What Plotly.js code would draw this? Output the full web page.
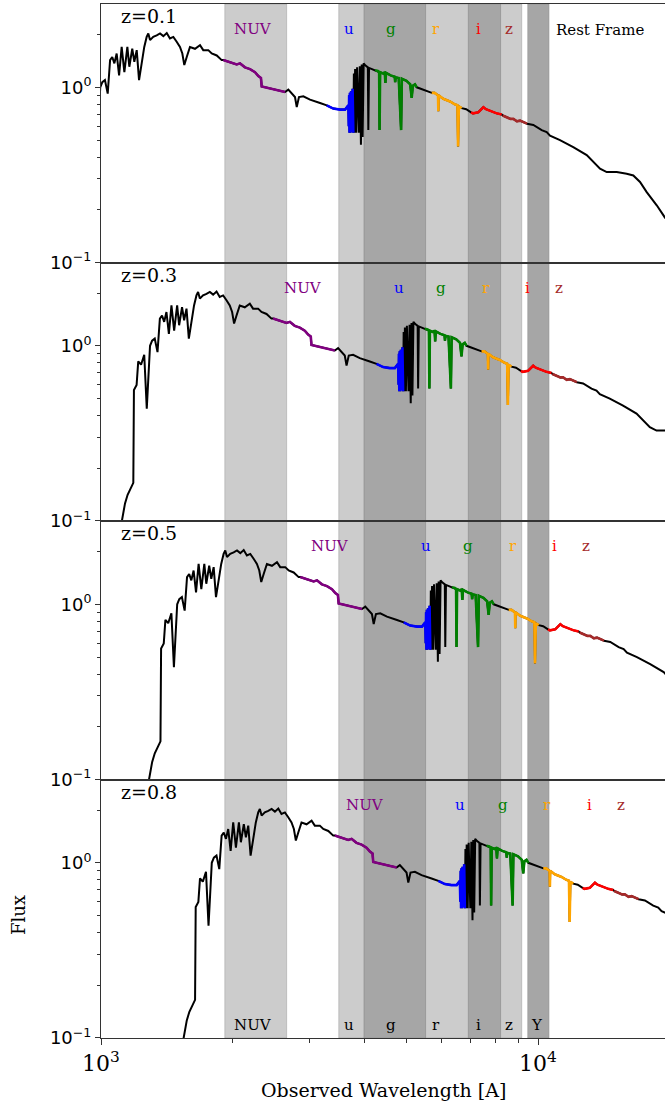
<!DOCTYPE html>
<html><head><meta charset="utf-8">
<script src="https://cdn.plot.ly/plotly-3.0.1.min.js"></script>
<style>html,body{margin:0;padding:0;background:#fff}#chart{width:665px;height:1102px}</style>
</head><body><div id="chart"></div>
<script>
// ---------- DATA ----------
// Rest-frame template spectrum (wavelength in Angstrom, relative flux)
const restWave = [845, 858, 873, 885, 904, 912, 915, 928, 936, 950, 966, 979, 996,
  1007, 1021, 1036, 1049, 1061, 1073, 1086, 1100, 1115, 1131, 1149, 1161, 1179, 1192, 1207, 1222, 1239, 1256,
  1272, 1283, 1295, 1317, 1341, 1365, 1389, 1414, 1438, 1464, 1490, 1516, 1535, 1551, 1571, 1598, 1641, 1685,
  1714, 1760, 1792, 1840, 1889,
  1905, 1973, 2044, 2081, 2135, 2193, 2251, 2291, 2323, 2332, 2373, 2436, 2502, 2568, 2637,
  2683, 2736, 2779, 2805, 2838, 2904, 3008, 3171, 3285, 3401, 3523, 3618, 3681,
  3690, 3697, 3704, 3712, 3722, 3734, 3750, 3765, 3779,
  3790, 3798, 3815, 3835, 3855, 3889, 3910, 3934, 3950, 3969, 3990, 4030, 4080, 4090, 4105, 4170, 4236,
  4300, 4330, 4340, 4352, 4420, 4460, 4475, 4490, 4600, 4700, 4712, 4725, 4800, 4861, 4880, 5000, 5100,
  5140, 5170, 5230, 5280, 5400, 5550, 5713,
  5800, 5905, 5915, 5925, 6070, 6290, 6450, 6540, 6563, 6590, 6691,
  6850, 7027, 7100, 7300, 7450, 7500, 7600, 7800, 8044, 8259,
  8300, 8481, 8650, 8781, 8950, 9096, 9300, 9441,
  9757, 10197, 10469, 10654, 11228, 12041, 12927, 13866, 14363, 15141, 15959, 16524, 17117, 17731, 18694, 19531, 20500];
const restFlux = [0.08, 0.10, 0.126, 0.141, 0.158, 0.165, 0.56, 0.598, 0.815, 0.78, 0.89, 0.438, 1.0,
  1.07, 1.10, 0.92, 1.43, 1.49, 1.37, 1.56, 1.17, 1.70, 1.22, 1.70, 1.31, 1.66, 1.40, 1.63, 1.10, 1.40, 1.70,
  1.94, 2.03, 1.86, 1.94, 1.98, 2.03, 1.96, 2.04, 1.90, 1.94, 1.82, 1.70, 1.56, 1.34, 1.49, 1.70, 1.66, 1.74,
  1.63, 1.63, 1.56, 1.52, 1.43,
  1.43, 1.39, 1.35, 1.37, 1.30, 1.27, 1.22, 1.16, 1.13, 1.01, 1.00, 0.987, 0.965, 0.955, 0.94,
  0.97, 0.912, 0.88, 0.772, 0.88, 0.888, 0.85, 0.813, 0.789, 0.756, 0.746, 0.746, 0.789,
  0.60, 0.90, 0.55, 0.93, 0.55, 0.95, 0.56, 0.98, 0.55,
  1.20, 0.55, 1.27, 0.55, 1.30, 0.55, 1.32, 0.47, 1.35, 0.52, 1.37, 1.33, 1.30, 0.57, 1.29, 1.27, 1.25,
  1.24, 1.22, 0.57, 1.22, 1.20, 1.22, 1.06, 1.21, 1.17, 1.15, 1.07, 1.14, 1.13, 0.57, 1.12, 1.09, 1.04,
  0.87, 1.02, 1.04, 1.00, 0.98, 0.95, 0.93,
  0.93, 0.90, 0.73, 0.90, 0.86, 0.83, 0.80, 0.79, 0.46, 0.78, 0.76,
  0.75, 0.72, 0.71, 0.72, 0.76, 0.77, 0.75, 0.73, 0.71, 0.70,
  0.69, 0.675, 0.66, 0.66, 0.64, 0.645, 0.63, 0.62,
  0.61, 0.57, 0.555, 0.53, 0.50, 0.456, 0.41, 0.343, 0.328, 0.328, 0.321, 0.314, 0.288, 0.252, 0.212, 0.18, 0.16];

const panelLabels = ['z=0.1', 'z=0.3', 'z=0.5', 'z=0.8'];
const panelShift = [1.0, 1.3, 1.5, 1.8];

const segNames = ['NUV', 'u', 'g', 'r', 'i', 'z'];
const segColors = ['purple', 'blue', 'green', 'orange', 'red', 'brown'];
const segStart = [1905, 3285, 4236, 5713, 7027, 8300];
const segEnd = [2637, 3779, 5280, 6691, 8259, 9441];
const segLabelWave = [2230, 3690, 4610, 5840, 7290, 8590];

const bandNames = ['NUV', 'u', 'g', 'r', 'i', 'z', 'Y'];
const bandStart = [1920, 3500, 4000, 5530, 6930, 8210, 9470];
const bandEnd = [2660, 4000, 5530, 6930, 8210, 9180, 10600];
const bandLabelWave = [2230, 3690, 4610, 5840, 7290, 8590, 9950];

const xTickVals = [1000, 10000];
const xTickText = ['10<sup>3</sup>', '10<sup>4</sup>'];
const yTickVals = [0.1, 1];
const yTickText = ['10<sup>\u22121</sup>', '10<sup>0</sup>'];

// ---------- STYLE ----------
const bandAlpha = [0.4, 0.4, 0.7, 0.4, 0.7, 0.4, 0.7];
const SERIF = 'DejaVu Serif';
const nP = 4;
const panelH = 1 / nP;
const xMinor = [2000, 3000, 4000, 5000, 6000, 7000, 8000, 9000];
const yMinor = [0.2, 0.3, 0.4, 0.5, 0.6, 0.7, 0.8, 0.9, 2, 3];

const traces = [];
const annotations = [];
const shapes = [];
const layout = {
  width: 665, height: 1102,
  margin: {l: 101, r: 0, t: 4, b: 64},
  paper_bgcolor: '#fff', plot_bgcolor: '#fff',
  showlegend: false,
  font: {family: SERIF, color: '#000'},
  shapes: shapes,
  annotations: annotations
};

for (let p = 0; p < nP; p++) {
  const s = p === 0 ? '' : String(p + 1);
  const f = panelShift[p];
  const xs = restWave.map(w => w * f);
  traces.push({x: xs, y: restFlux, xaxis: 'x' + s, yaxis: 'y' + s, type: 'scatter', mode: 'lines',
    line: {color: '#000', width: 2}, hoverinfo: 'skip'});
  for (let k = 0; k < segNames.length; k++) {
    const sx = [], sy = [];
    for (let i = 0; i < restWave.length; i++) {
      if (restWave[i] >= segStart[k] && restWave[i] <= segEnd[k]) { sx.push(restWave[i] * f); sy.push(restFlux[i]); }
    }
    traces.push({x: sx, y: sy, xaxis: 'x' + s, yaxis: 'y' + s, type: 'scatter', mode: 'lines',
      line: {color: segColors[k], width: 2.6}, hoverinfo: 'skip'});
    annotations.push({xref: 'x' + s, yref: 'y' + s + ' domain', x: Math.log10(segLabelWave[k] * f), y: 1 - 25 / 258.5,
      text: segNames[k], showarrow: false, xanchor: 'center', yanchor: 'middle',
      font: {family: SERIF, size: 15, color: segColors[k]}});
  }
  annotations.push({xref: 'x' + s + ' domain', yref: 'y' + s + ' domain', x: 18 / 564, y: 1 - 12 / 258.5,
    text: panelLabels[p], showarrow: false, xanchor: 'left', yanchor: 'middle',
    font: {family: SERIF, size: 19, color: '#000'}});

  // filter bands (observed frame, identical in every panel); shape x in data units
  for (let b = 0; b < bandNames.length; b++) {
    const c = 'rgba(128,128,128,' + bandAlpha[b] + ')';
    shapes.push({type: 'rect', xref: 'x' + s, yref: 'y' + s + ' domain', layer: 'below',
      x0: bandStart[b], x1: bandEnd[b], y0: 0, y1: 1,
      fillcolor: c, line: {color: 'rgba(128,128,128,0.35)', width: 1}});
  }

  const bottom = p === nP - 1;
  layout['xaxis' + s] = {
    type: 'log', range: [3, 3 + 564 / 437], anchor: 'y' + s, domain: [0, 1],
    showline: true, mirror: true, linecolor: '#333', linewidth: 1,
    showgrid: false, zeroline: false,
    ticks: bottom ? 'outside' : '', ticklen: 6, tickcolor: '#333',
    tickmode: 'array', tickvals: bottom ? xTickVals : [], ticktext: bottom ? xTickText : [],
    showticklabels: bottom,
    tickfont: {family: SERIF, size: 22, color: '#000'},
    minor: bottom ? {ticks: 'outside', ticklen: 3.5, tickcolor: '#333', tickmode: 'array', tickvals: xMinor, showgrid: false} : {ticks: ''}
  };
  const d0 = (nP - 1 - p) * panelH;
  layout['yaxis' + s] = {
    type: 'log', range: [-1.0003, 0.4757], anchor: 'x' + s, domain: [d0, d0 + panelH],
    showline: true, mirror: false, linecolor: '#333', linewidth: 1,
    showgrid: false, zeroline: false,
    ticks: 'outside', ticklen: 5, tickcolor: '#333',
    tickmode: 'array', tickvals: yTickVals, ticktext: yTickText,
    tickfont: {family: 'DejaVu Sans', size: 18, color: '#000'},
    minor: {ticks: 'outside', ticklen: 3, tickcolor: '#333', tickmode: 'array', tickvals: yMinor, showgrid: false}
  };
}

for (let b = 0; b < bandNames.length; b++) {
  annotations.push({xref: 'x4', yref: 'y4 domain', x: Math.log10(bandLabelWave[b]), y: 13 / 258.5,
    text: bandNames[b], showarrow: false, xanchor: 'center', yanchor: 'middle',
    font: {family: SERIF, size: 15, color: '#000'}});
}

annotations.push({xref: 'paper', yref: 'paper', x: (600 - 101) / 564, y: 1 - 26 / 1034, text: 'Rest Frame',
  showarrow: false, xanchor: 'center', yanchor: 'middle', font: {family: SERIF, size: 15, color: '#000'}});
annotations.push({xref: 'paper', yref: 'paper', x: (383 - 101) / 564, y: -(1090 - 1038) / 1034, text: 'Observed Wavelength [A]',
  showarrow: false, xanchor: 'center', yanchor: 'middle', font: {family: SERIF, size: 19, color: '#000'}});
annotations.push({xref: 'paper', yref: 'paper', x: (18 - 101) / 564, y: (1038 - 915) / 1034, text: 'Flux', textangle: -90,
  showarrow: false, xanchor: 'center', yanchor: 'middle', font: {family: SERIF, size: 18, color: '#000'}});

Plotly.newPlot('chart', traces, layout, {staticPlot: true, displayModeBar: false});
</script></body></html>
